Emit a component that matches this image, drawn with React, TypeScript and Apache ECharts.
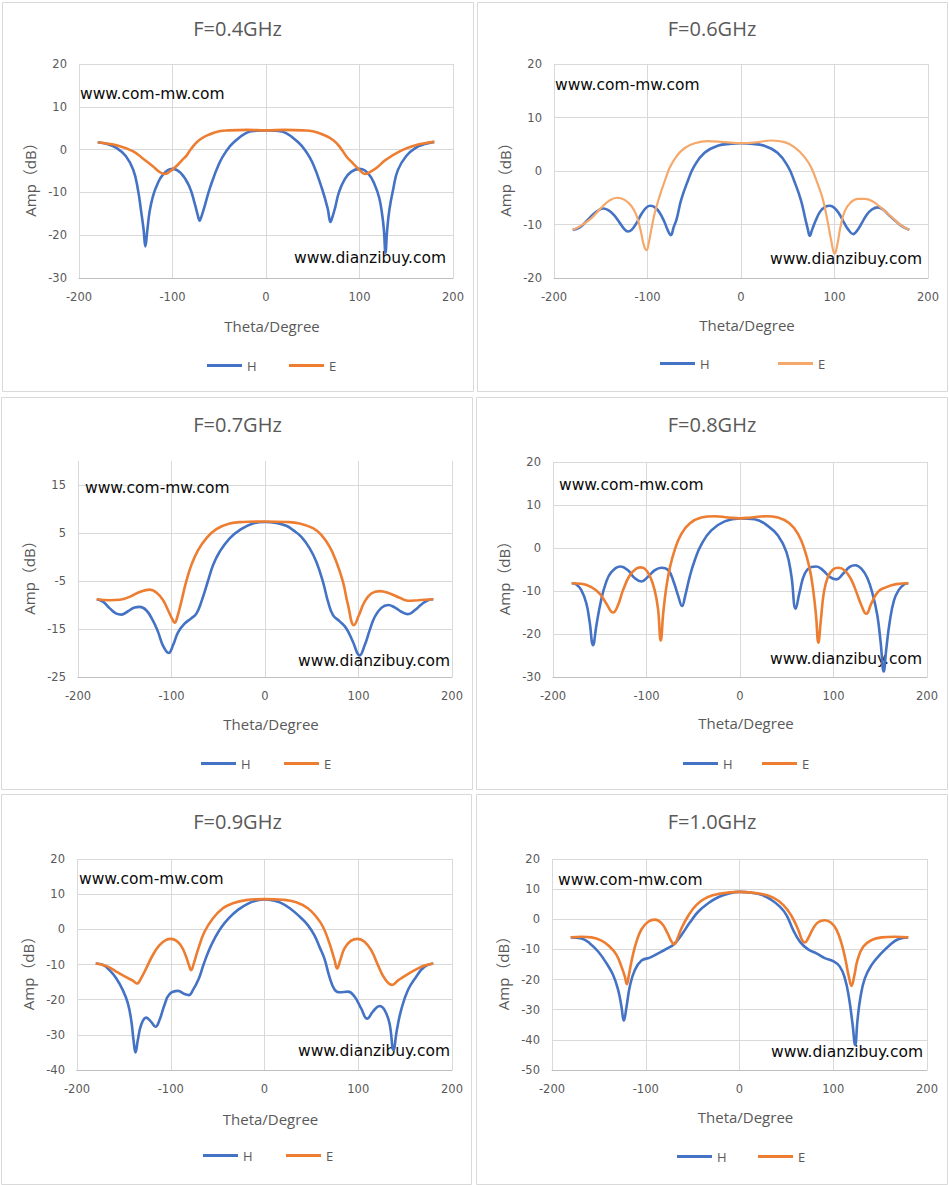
import React, { useEffect, useRef } from "react";
import * as echarts from "echarts";

type Pt = [number, number];

// ---------- data (theta in degree, amplitude in dB) ----------
const titles = ["F=0.4GHz", "F=0.6GHz", "F=0.7GHz", "F=0.8GHz", "F=0.9GHz", "F=1.0GHz"];
const seriesNames = ["H", "E"];
const xName = "Theta/Degree";
const yName = "Amp（dB）";
const watermarkA = "www.com-mw.com";
const watermarkB = "www.dianzibuy.com";

const p1H: Pt[] = [[-180,1.7],[-170,1.3],[-160,0.4],[-150,-1.5],[-142,-4.7],[-137,-9.3],[-133.5,-14.5],[-131,-18.5],[-129,-22.6],[-127,-19],[-124.5,-14.5],[-121,-11],[-117,-8.5],[-110,-5.8],[-100,-4.5],[-91,-5.5],[-82,-8.6],[-76,-12.8],[-73,-15.3],[-71,-16.6],[-69,-15.6],[-66,-13.5],[-60,-9],[-50,-3.2],[-42,-0.2],[-35,1.6],[-21,3.9],[-10,4.4],[0,4.5],[10,4.4],[21,3.9],[35,1.6],[42,-0.2],[50,-3.2],[60,-9.2],[66,-13.8],[69,-16.9],[71,-15.8],[74,-13.5],[78,-10],[84,-7],[91,-5.2],[100,-4.5],[110,-5.8],[117,-8.6],[121,-11.2],[124,-14.8],[126,-18.5],[127.8,-24.1],[129.5,-19],[132,-14],[136,-9.3],[141,-4.8],[150,-1.5],[160,0.4],[170,1.3],[180,1.8]];
const p1E: Pt[] = [[-180,1.7],[-170,1.4],[-160,1],[-142,-0.4],[-131,-2.2],[-121,-3.9],[-114,-5.2],[-108,-5.7],[-104,-5.3],[-96,-3.9],[-90,-2.5],[-85,-1.4],[-80,0.2],[-71,2.3],[-60,3.6],[-50,4.3],[-40,4.5],[-20,4.6],[0,4.5],[20,4.6],[40,4.5],[50,4.3],[60,3.6],[72,2.2],[80,0.3],[86,-1.6],[92,-3],[97,-4.1],[102,-5.2],[106,-5.7],[110,-5.4],[118,-4.3],[128,-2.4],[143,-0.4],[160,1],[170,1.5],[180,1.8]];

const p2H: Pt[] = [[-180,-11],[-173,-10.6],[-166,-9.5],[-158,-8.1],[-152,-7.3],[-147.5,-7],[-142,-7.3],[-136,-8.2],[-130,-9.6],[-125,-10.8],[-121,-11.3],[-117,-11],[-112,-9.8],[-106,-7.9],[-101,-6.8],[-97,-6.5],[-92,-6.8],[-87,-7.8],[-82,-9.5],[-78,-11.2],[-75,-12],[-72,-10.5],[-69,-9.1],[-64,-5.4],[-57,-1.9],[-50,0.9],[-39,3.4],[-25,4.7],[-10,5.1],[0,5.2],[10,5.1],[25,4.7],[39,3.4],[50,0.9],[57,-1.9],[64,-5.4],[69,-9.1],[71.5,-10.9],[73.5,-12.1],[76,-11],[80,-9.2],[85,-7.5],[90,-6.7],[95,-6.5],[100,-6.9],[105,-8],[110,-9.6],[115,-11],[120,-11.8],[124,-11.2],[129,-9.8],[134,-8.3],[140,-7.2],[146.5,-6.8],[152,-7.2],[158,-8.2],[165,-9.3],[172,-10.3],[180,-11]];
const p2E: Pt[] = [[-180,-11],[-171,-10.2],[-160,-8.8],[-149.5,-6.9],[-140.5,-5.5],[-132.5,-5],[-124.5,-5.4],[-117.5,-6.5],[-112,-8.2],[-107.5,-11],[-104,-13.8],[-101,-14.8],[-98.7,-13.5],[-96,-11],[-92.3,-7.9],[-87,-4.7],[-81.6,-1.9],[-76.3,0.6],[-69.2,2.7],[-60.2,4.3],[-49.6,5.2],[-35.3,5.6],[-17.5,5.4],[0,5.2],[18,5.4],[32.5,5.7],[46.7,5.4],[57.4,4.4],[68,2.6],[75.2,0.6],[82.4,-2.6],[87.7,-5.4],[92.3,-9.1],[96.6,-13.1],[100.2,-15.5],[103,-13.8],[106.6,-10.3],[111,-7.5],[117.3,-5.9],[125,-5.2],[132.3,-5.2],[141,-5.7],[150,-6.9],[161,-8.6],[171.5,-10.2],[180,-11]];

const p3H: Pt[] = [[-180,-8.8],[-173.3,-9.3],[-166,-10.7],[-159,-11.8],[-153.7,-12],[-146.5,-11.3],[-139.4,-10.5],[-134,-10.4],[-127,-11.1],[-120,-13.2],[-114.4,-15.6],[-109,-18.5],[-103,-20],[-98.4,-18.4],[-93,-15.7],[-86,-13.9],[-79,-12.8],[-73.4,-11.8],[-68,-9.3],[-61,-5],[-55.6,-1.7],[-48.5,1.1],[-37.8,3.9],[-27.1,5.6],[-12.8,7],[0,7.3],[12,7.1],[22.8,6.5],[30,5.6],[38.9,4.2],[47.8,1.8],[54.9,-1],[62,-5.2],[67.4,-9.3],[72.7,-12.1],[79.9,-13.4],[87,-14.9],[94.1,-17.7],[101.2,-20.5],[106.6,-18.4],[111.9,-15.3],[117.3,-12.5],[124.4,-10.6],[131.6,-10],[138.7,-10.5],[145.8,-11.4],[152.9,-11.9],[160.1,-11.1],[167.2,-9.9],[174.3,-9],[180,-8.8]];
const p3E: Pt[] = [[-180,-8.8],[-166,-9],[-155.4,-8.9],[-144.7,-8.3],[-134,-7.3],[-123.4,-6.8],[-116.2,-7.4],[-109,-9],[-103.7,-11.1],[-99,-13],[-96.6,-13.7],[-93.8,-12.5],[-89.5,-9.3],[-84.8,-5.5],[-78.8,-1.7],[-71.7,1.4],[-62.8,3.9],[-52,5.8],[-37.8,7],[-23.5,7.3],[0,7.4],[22.8,7.3],[37,7],[51.3,6],[60.2,4.6],[69.2,2.1],[76.3,-1],[83.4,-5.2],[88.8,-10],[95.2,-14.2],[100.5,-12.1],[106.6,-9.3],[113.7,-7.6],[122.6,-7.1],[133.3,-7.6],[144,-8.5],[152.9,-9.1],[163.6,-9],[180,-8.8]];

const p4H: Pt[] = [[-180,-8.2],[-175,-8.5],[-169.7,-9.8],[-164.3,-12.9],[-160.8,-17.2],[-157.2,-22.6],[-153.6,-18],[-149,-12.6],[-143.7,-8.3],[-137.6,-5.6],[-127.6,-4.3],[-119.8,-5.2],[-112.7,-7],[-105.5,-7.8],[-98.4,-6.7],[-91.3,-5.2],[-84.1,-4.6],[-76.5,-5.2],[-70.9,-7.9],[-66.3,-11],[-62,-13.5],[-58.5,-11],[-53.8,-6.7],[-48.5,-2.9],[-41.4,0.8],[-30.7,4.1],[-16.4,6.2],[0,6.9],[15.7,6.7],[30,5.1],[40.6,2.9],[49.6,-0.9],[54.9,-6.4],[59.5,-14.1],[63.8,-10.2],[69.2,-6],[76.3,-4.4],[81.6,-4.3],[88.8,-5.2],[95.9,-6.7],[103,-7.3],[110.2,-6],[117.3,-4.4],[123.4,-4],[129.8,-4.8],[136.2,-7],[142.2,-11],[146.9,-15.7],[150.4,-21.9],[153.7,-28.7],[156.5,-23.4],[160.1,-17.2],[164.7,-12.2],[169.7,-9.8],[175.4,-8.5],[180,-8.2]];
const p4E: Pt[] = [[-180,-8.2],[-169.7,-8.3],[-159,-9.1],[-150.1,-10.6],[-143,-12.9],[-135.8,-15],[-130.5,-13.3],[-125.1,-9.8],[-118,-6.4],[-110.9,-4.8],[-106.6,-4.5],[-102,-4.8],[-96.6,-6.4],[-91.3,-9.8],[-87.7,-14.1],[-84.8,-21.5],[-82,-14.9],[-78.8,-9.1],[-75.2,-4.8],[-69.9,-0.5],[-62.7,3.3],[-53.8,5.7],[-41.4,7.1],[-27.1,7.4],[-12.8,7.1],[0,6.9],[12.1,7.1],[28.2,7.4],[40.6,7.1],[53.1,5.7],[62,3.3],[69.2,-0.5],[74.5,-4.8],[78.1,-9.5],[81.3,-15.7],[83.8,-22],[86.3,-17.2],[89.8,-10.2],[94.1,-6.7],[99.5,-5],[105.5,-4.6],[111.9,-5.2],[118.4,-7.1],[124.4,-10.2],[129.8,-13.3],[135.1,-15.3],[140.5,-12.9],[147.6,-10.2],[156.5,-9.1],[167.2,-8.4],[180,-8.2]];

const p5H: Pt[] = [[-180,-9.7],[-172.4,-10.1],[-165.3,-11.6],[-158.2,-13.9],[-151.1,-17.3],[-145.8,-21],[-142.2,-25.8],[-139.7,-31.5],[-137.6,-35],[-135.1,-31.5],[-131.6,-27.2],[-126.2,-25.1],[-120.9,-26.3],[-116.3,-27.7],[-112,-25.8],[-106.7,-21.5],[-101.3,-18.4],[-92.4,-17.5],[-85.3,-18.4],[-80.7,-18.7],[-76.4,-17.3],[-70,-14],[-65,-10],[-59,-5.8],[-53,-2.5],[-46,0.6],[-38,3.2],[-28,5.6],[-17,7.4],[-8,8.2],[0,8.5],[8,8.3],[17,7.6],[28,5.8],[38,3.5],[46.2,1.2],[53,-1.6],[59,-5.2],[64,-8.4],[69.3,-13.5],[74.7,-17.1],[80,-17.9],[88.9,-17.7],[96,-19.1],[103.1,-22.5],[109.5,-25.4],[115.6,-23.4],[122.7,-21.8],[128,-22.9],[133.3,-26.7],[137.6,-34.3],[141.2,-28.6],[145.8,-22.9],[152.9,-17.3],[161.8,-13.5],[170.7,-10.6],[180,-9.7]];
const p5E: Pt[] = [[-180,-9.7],[-168.9,-10.4],[-158.2,-12],[-147.6,-13.6],[-140.4,-14.6],[-136.2,-15.4],[-131.6,-13.9],[-126.2,-11.1],[-119.1,-7.3],[-112,-4.5],[-104.9,-3],[-99.6,-2.7],[-94.2,-3.2],[-88.9,-4.7],[-84.3,-7.3],[-80.7,-10.1],[-78.2,-11.6],[-75.4,-9.7],[-71.1,-5.9],[-64,-0.7],[-55.1,3.1],[-44.4,6],[-33.8,7.4],[-19.6,8.3],[0,8.6],[19.6,8.4],[33.8,7.7],[46.2,6],[55.1,3.6],[62.2,0.8],[69.3,-4],[74.7,-8.7],[77.5,-11.1],[80.7,-8.9],[85.3,-5.4],[92.4,-3.2],[99.6,-2.7],[106.7,-3.5],[113.8,-5.9],[120.9,-10.1],[128,-13.9],[136.2,-15.8],[142.2,-14.6],[151.1,-13],[161.8,-11.4],[170.7,-10.3],[180,-9.7]];

const p6H: Pt[] = [[-180,-6],[-168.5,-6.4],[-159.6,-8],[-150.8,-10.7],[-141.9,-14.6],[-134.8,-18.5],[-129.4,-23.5],[-125.9,-29],[-123.4,-33.6],[-120.5,-29],[-117,-22.3],[-111.6,-16.8],[-104.5,-13.7],[-95.6,-12.7],[-86.8,-11.3],[-77.9,-9.8],[-69.7,-8.2],[-61.9,-5.2],[-53,-1.1],[-44.1,2.5],[-33.4,5.3],[-22.8,7.3],[-12.1,8.5],[0,9.1],[12.8,8.8],[23.5,8.1],[34.1,6.4],[43,4.2],[50.1,1.4],[57.2,-3.5],[64.4,-7.4],[73.2,-10],[82.1,-11.3],[91,-12.9],[99.9,-13.9],[107,-15.7],[112.4,-19.6],[116.6,-25.7],[120.5,-34.5],[123.4,-41.7],[125.9,-33.4],[129.1,-25.7],[133.7,-19.6],[140.8,-15.2],[149.7,-11.8],[160.4,-8.5],[169.2,-6.6],[180,-6]];
const p6E: Pt[] = [[-180,-6],[-168.5,-5.8],[-157.9,-6],[-147.2,-7.1],[-138.3,-9.1],[-131.2,-11.8],[-125.9,-15.7],[-122.3,-19],[-120.2,-21.5],[-118,-18.5],[-114.5,-12.9],[-109.9,-7.4],[-104.5,-3.3],[-97.4,-0.8],[-90.3,-0.1],[-83.2,-1.3],[-76.8,-4.6],[-72.5,-7.4],[-69.7,-8.3],[-66.1,-6.3],[-61.9,-3],[-54.8,1.1],[-45.9,4.8],[-35.2,7.2],[-22.8,8.4],[0,9.1],[23.5,8.4],[35.9,7.2],[46.6,4.8],[55.5,1.1],[62.6,-3.5],[66.8,-6.9],[69.7,-7.7],[73.2,-6.3],[78.6,-3],[83.9,-1],[91,-0.3],[97.4,-1.1],[103.5,-3.5],[108.8,-8],[113.1,-13.5],[116.6,-19],[119.5,-22.1],[122.3,-19],[125.9,-13.5],[131.9,-9.1],[140.8,-6.9],[151.5,-6],[165.7,-5.8],[180,-6]];

const yMins = [-30, -20, -25, -30, -40, -50];
const yMaxs = [20, 20, 20, 20, 20, 20];
const xMin = -200;
const xMax = 200;
const xStep = 100;
const yStep = 10;

// ---------- layout (pixels) ----------
interface Layout {
  cell: [number, number, number, number];
  border: [number, number, number, number];
  grid: [number, number, number, number];
  titleTop: number;
  titlePadLeft: number;
  xGap: number;
  wmA: [number, number];
  wmB: [number, number];
  leg: [number, number, number];
  eColor: string;
  eWidth: number;
}

const layouts: Layout[] = [
  { cell: [0, 0, 475, 395], border: [2.5, 2.5, 471, 389], grid: [79, 64, 374, 214], titleTop: 18, titlePadLeft: 67, xGap: 40, wmA: [80, 94], wmB: [294, 258], leg: [207, 289, 366], eColor: "#ED7D31", eWidth: 2.6 },
  { cell: [475, 0, 474, 395], border: [2.5, 2.5, 470, 389], grid: [79, 64, 374, 214], titleTop: 18, titlePadLeft: 0, xGap: 39, wmA: [80, 85], wmB: [295, 259], leg: [185, 303, 364], eColor: "#F5A86A", eWidth: 2.2 },
  { cell: [0, 395, 475, 395], border: [1.5, 2.5, 471, 392], grid: [78, 66, 374, 216], titleTop: 19, titlePadLeft: 0, xGap: 39, wmA: [85, 93], wmB: [298, 266], leg: [201, 284, 369], eColor: "#ED7D31", eWidth: 2.6 },
  { cell: [475, 395, 474, 395], border: [1.5, 2.5, 471, 392], grid: [78, 67, 374, 215], titleTop: 19, titlePadLeft: 0, xGap: 38, wmA: [84, 90], wmB: [295, 264], leg: [208, 287, 369], eColor: "#ED7D31", eWidth: 2.6 },
  { cell: [0, 790, 475, 395], border: [1.5, 4.5, 470, 390], grid: [77, 69, 375, 211], titleTop: 21, titlePadLeft: 0, xGap: 41, wmA: [79, 89], wmB: [298, 261], leg: [203, 286, 366], eColor: "#ED7D31", eWidth: 2.6 },
  { cell: [475, 790, 474, 395], border: [1.5, 4.5, 471, 390], grid: [77, 69, 375, 211], titleTop: 21, titlePadLeft: 0, xGap: 39, wmA: [83, 90], wmB: [296, 262], leg: [202, 283, 367], eColor: "#ED7D31", eWidth: 2.6 },
];

const hData: Pt[][] = [p1H, p2H, p3H, p4H, p5H, p6H];
const eData: Pt[][] = [p1E, p2E, p3E, p4E, p5E, p6E];

const GRAY_TEXT = "#595959";
const GRID = "#d9d9d9";
const H_COLOR = "#4472C4";

function buildOption(i: number): any {
  const L = layouts[i];
  const hideMax = (yMaxs[i] - yMins[i]) % yStep !== 0;
  const legendCommon = {
    top: L.leg[2] - 7,
    icon: "rect",
    itemWidth: 35,
    itemHeight: 3,
    padding: 0,
    selectedMode: false,
    textStyle: { color: GRAY_TEXT, fontSize: 13, fontFamily: "'Open Sans', sans-serif" },
  };
  const wmStyle = { fontSize: 15.5, fontFamily: "'DejaVu Sans', sans-serif", fill: "#0a0a0a" };
  return {
    animation: false,
    backgroundColor: "#ffffff",
    title: {
      text: titles[i],
      left: "center",
      top: L.titleTop,
      padding: [0, 0, 0, L.titlePadLeft],
      textStyle: { color: GRAY_TEXT, fontSize: 20, fontWeight: "normal", fontFamily: "'Open Sans', sans-serif" },
    },
    grid: { left: L.grid[0], top: L.grid[1], width: L.grid[2], height: L.grid[3], containLabel: false },
    xAxis: {
      type: "value",
      min: xMin,
      max: xMax,
      interval: xStep,
      name: xName,
      nameLocation: "middle",
      nameGap: L.xGap,
      nameTextStyle: { color: GRAY_TEXT, fontSize: 15, fontFamily: "'Open Sans', sans-serif", padding: [0, 0, 0, 12] },
      axisLine: { show: true, onZero: false, lineStyle: { color: "#bfbfbf", width: 1 } },
      axisTick: { show: false },
      axisLabel: { margin: 13, color: GRAY_TEXT, fontSize: 11.5, fontFamily: "'DejaVu Sans', sans-serif" },
      splitLine: { show: true, lineStyle: { color: GRID, width: 1 } },
    },
    yAxis: {
      type: "value",
      min: yMins[i],
      max: yMaxs[i],
      interval: yStep,
      name: yName,
      nameLocation: "middle",
      nameRotate: 90,
      nameGap: 38,
      nameTextStyle: { color: GRAY_TEXT, fontSize: 15, fontFamily: "'Open Sans', 'Noto Sans CJK SC', sans-serif", padding: [0, 10, 0, 0] },
      axisLine: { show: false, onZero: false },
      axisTick: { show: false },
      axisLabel: { margin: 12, color: GRAY_TEXT, fontSize: 11.5, fontFamily: "'DejaVu Sans', sans-serif", showMaxLabel: !hideMax },
      splitLine: { show: true, showMaxLine: !hideMax, lineStyle: { color: GRID, width: 1 } },
    },
    legend: [
      { ...legendCommon, data: [seriesNames[0]], left: L.leg[0] },
      { ...legendCommon, data: [seriesNames[1]], left: L.leg[1] },
    ],
    series: [
      {
        name: seriesNames[0],
        type: "line",
        data: hData[i],
        symbol: "none",
        showSymbol: false,
        smooth: 0.45,
        z: 3,
        lineStyle: { color: H_COLOR, width: 2.6 },
        itemStyle: { color: H_COLOR },
      },
      {
        name: seriesNames[1],
        type: "line",
        data: eData[i],
        symbol: "none",
        showSymbol: false,
        smooth: 0.45,
        z: 3,
        lineStyle: { color: L.eColor, width: L.eWidth },
        itemStyle: { color: L.eColor },
      },
    ],
    graphic: [
      {
        type: "rect",
        z: 0,
        silent: true,
        shape: { x: L.border[0], y: L.border[1], width: L.border[2], height: L.border[3] },
        style: { fill: "none", stroke: GRID, lineWidth: 1 },
      },
      {
        type: "text",
        z: 1,
        x: L.wmA[0],
        y: L.wmA[1],
        style: { ...wmStyle, text: watermarkA, align: "left", verticalAlign: "middle" },
      },
      {
        type: "text",
        z: 1,
        x: L.wmB[0],
        y: L.wmB[1],
        style: { ...wmStyle, text: watermarkB, align: "left", verticalAlign: "middle" },
      },
    ],
  };
}

function Panel({ index }: { index: number }) {
  const ref = useRef<HTMLDivElement>(null);
  const L = layouts[index];
  useEffect(() => {
    if (!ref.current) return;
    const chart = echarts.init(ref.current, null, { renderer: "svg" });
    chart.setOption(buildOption(index));
    return () => chart.dispose();
  }, [index]);
  return (
    <div
      ref={ref}
      style={{ position: "absolute", left: L.cell[0], top: L.cell[1], width: L.cell[2], height: L.cell[3] }}
    />
  );
}

export default function App() {
  return (
    <div style={{ position: "absolute", left: 0, top: 0, width: 949, height: 1185, background: "#ffffff", overflow: "hidden" }}>
      {layouts.map((_, i) => (
        <Panel key={i} index={i} />
      ))}
    </div>
  );
}
